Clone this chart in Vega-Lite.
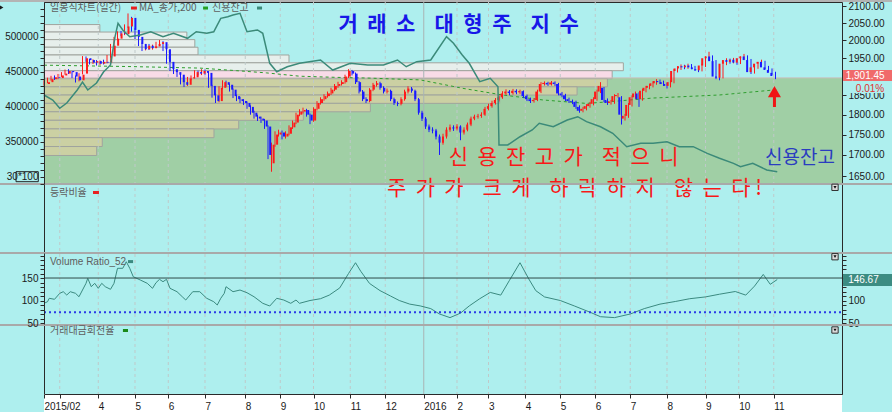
{
"$schema": "https://vega.github.io/schema/vega-lite/v6.json",
"width": 798, "height": 392,
"autosize": {"type": "none"},
"padding": {"left": 44, "top": 2, "right": 50, "bottom": 18},
"background": "#aeefee",
"config": {
  "view": {"stroke": "#2a2a2a", "strokeWidth": 1},
  "axis": {"labelFont": "Liberation Sans", "labelFontSize": 10, "labelColor": "#1a1a1a", "tickColor": "#2a2a2a", "domainColor": "#2a2a2a", "tickSize": 4, "labelPadding": 2, "grid": false, "labelOverlap": false}
},
"datasets": {
  "candles": [
{"t":0,"o":1880,"h":1890,"l":1876,"c":1885},{"t":2,"o":1885,"h":1897,"l":1882,"c":1893},{"t":4,"o":1893,"h":1902,"l":1889,"c":1898},{"t":6,"o":1898,"h":1903,"l":1891,"c":1896},{"t":8,"o":1896,"h":1907,"l":1893,"c":1903},{"t":10,"o":1903,"h":1912,"l":1899,"c":1908},{"t":12,"o":1908,"h":1919,"l":1905,"c":1915},{"t":14,"o":1915,"h":1920,"l":1907,"c":1912},{"t":16,"o":1912,"h":1914,"l":1896,"c":1900},{"t":18,"o":1900,"h":1903,"l":1884,"c":1890},
{"t":20,"o":1890,"h":1909,"l":1887,"c":1905},{"t":22,"o":1908,"h":1956,"l":1906,"c":1950},{"t":24,"o":1950,"h":1955,"l":1940,"c":1945},{"t":26,"o":1945,"h":1948,"l":1933,"c":1938},{"t":28,"o":1938,"h":1947,"l":1934,"c":1942},{"t":30,"o":1942,"h":1945,"l":1930,"c":1935},{"t":32,"o":1935,"h":1944,"l":1931,"c":1940},{"t":34,"o":1940,"h":1946,"l":1933,"c":1938},{"t":36,"o":1938,"h":1959,"l":1936,"c":1955},{"t":38,"o":1955,"h":1990,"l":1952,"c":1985},
{"t":40,"o":1985,"h":2010,"l":1982,"c":2005},{"t":42,"o":2005,"h":2026,"l":2000,"c":2020},{"t":44,"o":2020,"h":2027,"l":2012,"c":2018},{"t":46,"o":2018,"h":2046,"l":2015,"c":2040},{"t":48,"o":2040,"h":2078,"l":2036,"c":2065},{"t":50,"o":2065,"h":2068,"l":2025,"c":2030},{"t":52,"o":2030,"h":2035,"l":2004,"c":2010},{"t":54,"o":2010,"h":2014,"l":1984,"c":1990},{"t":56,"o":1990,"h":1994,"l":1970,"c":1975},{"t":58,"o":1975,"h":1990,"l":1972,"c":1985},
{"t":60,"o":1985,"h":1990,"l":1973,"c":1978},{"t":62,"o":1978,"h":1988,"l":1974,"c":1983},{"t":64,"o":1983,"h":1996,"l":1979,"c":1990},{"t":66,"o":1990,"h":2001,"l":1986,"c":1995},{"t":68,"o":1995,"h":1998,"l":1970,"c":1975},{"t":70,"o":1975,"h":1978,"l":1935,"c":1940},{"t":72,"o":1940,"h":1944,"l":1915,"c":1920},{"t":74,"o":1920,"h":1925,"l":1907,"c":1912},{"t":76,"o":1912,"h":1916,"l":1899,"c":1905},{"t":78,"o":1905,"h":1908,"l":1879,"c":1885},
{"t":80,"o":1885,"h":1890,"l":1872,"c":1878},{"t":82,"o":1878,"h":1899,"l":1875,"c":1895},{"t":84,"o":1895,"h":1903,"l":1890,"c":1898},{"t":86,"o":1898,"h":1917,"l":1895,"c":1912},{"t":88,"o":1912,"h":1916,"l":1903,"c":1908},{"t":90,"o":1908,"h":1920,"l":1904,"c":1915},{"t":92,"o":1915,"h":1919,"l":1905,"c":1910},{"t":94,"o":1910,"h":1913,"l":1870,"c":1875},{"t":96,"o":1875,"h":1878,"l":1844,"c":1850},{"t":98,"o":1850,"h":1855,"l":1830,"c":1835},
{"t":100,"o":1835,"h":1874,"l":1832,"c":1870},{"t":102,"o":1870,"h":1890,"l":1866,"c":1885},{"t":104,"o":1885,"h":1889,"l":1873,"c":1878},{"t":106,"o":1878,"h":1881,"l":1860,"c":1865},{"t":108,"o":1865,"h":1868,"l":1843,"c":1848},{"t":110,"o":1848,"h":1852,"l":1835,"c":1840},{"t":112,"o":1840,"h":1846,"l":1830,"c":1835},{"t":114,"o":1835,"h":1840,"l":1825,"c":1830},{"t":116,"o":1830,"h":1834,"l":1815,"c":1820},{"t":118,"o":1820,"h":1824,"l":1800,"c":1805},
{"t":120,"o":1805,"h":1810,"l":1790,"c":1795},{"t":122,"o":1795,"h":1800,"l":1784,"c":1790},{"t":124,"o":1790,"h":1795,"l":1779,"c":1785},{"t":126,"o":1785,"h":1789,"l":1764,"c":1770},{"t":128,"o":1770,"h":1773,"l":1690,"c":1700},{"t":130,"o":1680,"h":1730,"l":1660,"c":1725},{"t":132,"o":1725,"h":1758,"l":1720,"c":1750},{"t":134,"o":1750,"h":1762,"l":1745,"c":1755},{"t":136,"o":1755,"h":1760,"l":1738,"c":1745},{"t":138,"o":1745,"h":1758,"l":1740,"c":1752},
{"t":140,"o":1752,"h":1773,"l":1748,"c":1768},{"t":142,"o":1768,"h":1785,"l":1764,"c":1780},{"t":144,"o":1780,"h":1805,"l":1776,"c":1800},{"t":146,"o":1800,"h":1814,"l":1796,"c":1808},{"t":148,"o":1808,"h":1818,"l":1803,"c":1812},{"t":150,"o":1812,"h":1815,"l":1795,"c":1800},{"t":152,"o":1800,"h":1803,"l":1776,"c":1785},{"t":154,"o":1785,"h":1819,"l":1782,"c":1815},{"t":156,"o":1815,"h":1835,"l":1811,"c":1830},{"t":158,"o":1830,"h":1845,"l":1826,"c":1840},
{"t":160,"o":1840,"h":1853,"l":1836,"c":1848},{"t":162,"o":1848,"h":1860,"l":1844,"c":1855},{"t":164,"o":1855,"h":1870,"l":1851,"c":1865},{"t":166,"o":1865,"h":1880,"l":1861,"c":1875},{"t":168,"o":1875,"h":1886,"l":1870,"c":1880},{"t":170,"o":1880,"h":1890,"l":1876,"c":1885},{"t":172,"o":1885,"h":1905,"l":1881,"c":1900},{"t":174,"o":1900,"h":1920,"l":1896,"c":1915},{"t":176,"o":1915,"h":1918,"l":1903,"c":1908},{"t":178,"o":1908,"h":1911,"l":1880,"c":1885},
{"t":180,"o":1885,"h":1888,"l":1855,"c":1860},{"t":182,"o":1860,"h":1864,"l":1835,"c":1840},{"t":184,"o":1840,"h":1845,"l":1830,"c":1835},{"t":186,"o":1835,"h":1869,"l":1832,"c":1865},{"t":188,"o":1865,"h":1883,"l":1861,"c":1878},{"t":190,"o":1878,"h":1888,"l":1873,"c":1882},{"t":192,"o":1882,"h":1886,"l":1865,"c":1870},{"t":194,"o":1870,"h":1874,"l":1855,"c":1860},{"t":196,"o":1860,"h":1868,"l":1855,"c":1862},{"t":198,"o":1862,"h":1865,"l":1835,"c":1840},
{"t":200,"o":1840,"h":1844,"l":1825,"c":1830},{"t":202,"o":1830,"h":1834,"l":1822,"c":1828},{"t":204,"o":1828,"h":1845,"l":1824,"c":1840},{"t":206,"o":1840,"h":1865,"l":1836,"c":1860},{"t":208,"o":1860,"h":1874,"l":1855,"c":1868},{"t":210,"o":1868,"h":1872,"l":1857,"c":1862},{"t":212,"o":1862,"h":1865,"l":1835,"c":1840},{"t":214,"o":1840,"h":1843,"l":1800,"c":1805},{"t":216,"o":1805,"h":1810,"l":1784,"c":1790},{"t":218,"o":1790,"h":1794,"l":1764,"c":1770},
{"t":220,"o":1770,"h":1775,"l":1756,"c":1762},{"t":222,"o":1762,"h":1768,"l":1753,"c":1760},{"t":224,"o":1760,"h":1764,"l":1738,"c":1745},{"t":226,"o":1745,"h":1750,"l":1700,"c":1730},{"t":228,"o":1730,"h":1752,"l":1725,"c":1745},{"t":230,"o":1745,"h":1768,"l":1740,"c":1762},{"t":232,"o":1762,"h":1775,"l":1757,"c":1768},{"t":234,"o":1768,"h":1773,"l":1759,"c":1765},{"t":236,"o":1765,"h":1776,"l":1760,"c":1770},{"t":238,"o":1770,"h":1773,"l":1736,"c":1755},
{"t":240,"o":1755,"h":1768,"l":1750,"c":1762},{"t":242,"o":1762,"h":1780,"l":1758,"c":1775},{"t":244,"o":1775,"h":1795,"l":1771,"c":1790},{"t":246,"o":1790,"h":1800,"l":1786,"c":1795},{"t":248,"o":1795,"h":1802,"l":1790,"c":1797},{"t":250,"o":1797,"h":1806,"l":1792,"c":1800},{"t":252,"o":1800,"h":1820,"l":1797,"c":1815},{"t":254,"o":1815,"h":1828,"l":1811,"c":1822},{"t":256,"o":1822,"h":1836,"l":1818,"c":1830},{"t":258,"o":1830,"h":1843,"l":1826,"c":1838},
{"t":260,"o":1838,"h":1850,"l":1834,"c":1845},{"t":262,"o":1845,"h":1861,"l":1841,"c":1855},{"t":264,"o":1855,"h":1866,"l":1851,"c":1860},{"t":266,"o":1860,"h":1864,"l":1850,"c":1856},{"t":268,"o":1856,"h":1867,"l":1852,"c":1862},{"t":270,"o":1862,"h":1866,"l":1853,"c":1858},{"t":272,"o":1858,"h":1865,"l":1854,"c":1861},{"t":274,"o":1861,"h":1863,"l":1843,"c":1848},{"t":276,"o":1848,"h":1852,"l":1835,"c":1840},{"t":278,"o":1840,"h":1844,"l":1830,"c":1835},
{"t":280,"o":1835,"h":1843,"l":1831,"c":1838},{"t":282,"o":1838,"h":1865,"l":1835,"c":1860},{"t":284,"o":1860,"h":1885,"l":1856,"c":1880},{"t":286,"o":1880,"h":1887,"l":1876,"c":1883},{"t":288,"o":1883,"h":1886,"l":1875,"c":1879},{"t":290,"o":1879,"h":1888,"l":1876,"c":1884},{"t":292,"o":1884,"h":1887,"l":1875,"c":1880},{"t":294,"o":1880,"h":1883,"l":1850,"c":1855},{"t":296,"o":1855,"h":1859,"l":1845,"c":1850},{"t":298,"o":1850,"h":1854,"l":1835,"c":1840},
{"t":300,"o":1840,"h":1844,"l":1830,"c":1835},{"t":302,"o":1835,"h":1839,"l":1827,"c":1833},{"t":304,"o":1833,"h":1836,"l":1815,"c":1820},{"t":306,"o":1820,"h":1824,"l":1805,"c":1810},{"t":308,"o":1810,"h":1820,"l":1806,"c":1815},{"t":310,"o":1815,"h":1827,"l":1811,"c":1822},{"t":312,"o":1822,"h":1833,"l":1818,"c":1828},{"t":314,"o":1828,"h":1845,"l":1824,"c":1840},{"t":316,"o":1840,"h":1865,"l":1836,"c":1860},{"t":318,"o":1860,"h":1885,"l":1856,"c":1875},
{"t":320,"o":1870,"h":1872,"l":1832,"c":1838},{"t":322,"o":1838,"h":1842,"l":1825,"c":1830},{"t":324,"o":1830,"h":1838,"l":1826,"c":1834},{"t":326,"o":1834,"h":1853,"l":1828,"c":1848},{"t":328,"o":1848,"h":1856,"l":1844,"c":1851},{"t":330,"o":1845,"h":1848,"l":1775,"c":1800},{"t":332,"o":1790,"h":1802,"l":1785,"c":1797},{"t":334,"o":1797,"h":1830,"l":1792,"c":1825},{"t":336,"o":1825,"h":1850,"l":1821,"c":1845},{"t":338,"o":1845,"h":1860,"l":1841,"c":1855},
{"t":340,"o":1855,"h":1858,"l":1820,"c":1840},{"t":342,"o":1840,"h":1867,"l":1836,"c":1862},{"t":344,"o":1862,"h":1875,"l":1858,"c":1870},{"t":346,"o":1870,"h":1880,"l":1866,"c":1875},{"t":348,"o":1875,"h":1887,"l":1871,"c":1882},{"t":350,"o":1882,"h":1893,"l":1878,"c":1888},{"t":352,"o":1888,"h":1892,"l":1880,"c":1885},{"t":354,"o":1885,"h":1889,"l":1875,"c":1880},{"t":356,"o":1880,"h":1884,"l":1868,"c":1875},{"t":358,"o":1875,"h":1890,"l":1871,"c":1885},
{"t":360,"o":1885,"h":1920,"l":1882,"c":1915},{"t":362,"o":1915,"h":1928,"l":1911,"c":1922},{"t":364,"o":1922,"h":1933,"l":1918,"c":1928},{"t":366,"o":1928,"h":1932,"l":1920,"c":1925},{"t":368,"o":1925,"h":1935,"l":1921,"c":1930},{"t":370,"o":1930,"h":1934,"l":1920,"c":1925},{"t":372,"o":1925,"h":1929,"l":1915,"c":1920},{"t":374,"o":1920,"h":1924,"l":1912,"c":1917},{"t":376,"o":1917,"h":1935,"l":1914,"c":1930},{"t":378,"o":1930,"h":1955,"l":1926,"c":1950},
{"t":380,"o":1950,"h":1968,"l":1946,"c":1955},{"t":382,"o":1955,"h":1958,"l":1937,"c":1942},{"t":384,"o":1942,"h":1945,"l":1893,"c":1900},{"t":386,"o":1900,"h":1906,"l":1890,"c":1897},{"t":388,"o":1897,"h":1940,"l":1895,"c":1935},{"t":390,"o":1935,"h":1950,"l":1931,"c":1945},{"t":392,"o":1945,"h":1949,"l":1935,"c":1940},{"t":394,"o":1940,"h":1951,"l":1936,"c":1946},{"t":396,"o":1946,"h":1949,"l":1932,"c":1938},{"t":398,"o":1938,"h":1955,"l":1934,"c":1950},
{"t":400,"o":1950,"h":1962,"l":1946,"c":1955},{"t":402,"o":1955,"h":1958,"l":1940,"c":1945},{"t":404,"o":1945,"h":1948,"l":1907,"c":1912},{"t":406,"o":1912,"h":1930,"l":1908,"c":1925},{"t":408,"o":1925,"h":1940,"l":1921,"c":1935},{"t":410,"o":1935,"h":1946,"l":1931,"c":1940},{"t":412,"o":1940,"h":1943,"l":1920,"c":1925},{"t":414,"o":1925,"h":1929,"l":1913,"c":1918},{"t":416,"o":1918,"h":1922,"l":1905,"c":1910},{"t":418,"o":1910,"h":1913,"l":1893,"c":1901.45}
  ],
  "credit": [
{"t":0,"v":416700},{"t":5,"v":409600},{"t":9,"v":397700},{"t":13,"v":405300},{"t":19,"v":423900},{"t":22,"v":435300},{"t":25,"v":423900},{"t":30,"v":433900},{"t":34,"v":449600},{"t":38,"v":459600},{"t":40.6,"v":500000},{"t":42.3,"v":519100},{"t":45,"v":509600},{"t":49,"v":500000},{"t":55,"v":502400},{"t":61,"v":507100},{"t":68,"v":500000},{"t":74,"v":504900},{"t":82,"v":497700},{"t":87,"v":507100},{"t":93,"v":504900},{"t":97,"v":507100},{"t":101,"v":526300},{"t":105,"v":528600},{"t":108,"v":531000},{"t":112,"v":533400},{"t":116,"v":507100},{"t":122,"v":509600},{"t":125,"v":504900},{"t":129,"v":462000},{"t":133,"v":450000},{"t":139,"v":457100},{"t":146,"v":462000},{"t":158,"v":466700},{"t":165,"v":452400},{"t":175,"v":462000},{"t":185,"v":459600},{"t":194,"v":459600},{"t":202,"v":466700},{"t":207,"v":457100},{"t":213,"v":464300},{"t":221,"v":466700},{"t":230,"v":500000},{"t":234,"v":490600},{"t":239,"v":473900},{"t":243,"v":462000},{"t":249,"v":435700},{"t":255,"v":440600},{"t":259.4,"v":428600},{"t":260,"v":345300},{"t":265,"v":345300},{"t":272,"v":357100},{"t":279,"v":366700},{"t":283,"v":376300},{"t":291,"v":371400},{"t":299,"v":381000},{"t":305,"v":385700},{"t":310,"v":378600},{"t":318,"v":371400},{"t":325,"v":362000},{"t":333,"v":342900},{"t":341,"v":347700},{"t":348,"v":347700},{"t":356,"v":350000},{"t":363,"v":342900},{"t":371,"v":342900},{"t":379,"v":333400},{"t":386,"v":326300},{"t":394,"v":319100},{"t":398,"v":314300},{"t":405,"v":319100},{"t":413,"v":309600},{"t":419,"v":307100}
  ],
  "ma": [
{"t":0,"ma":1931},{"t":25,"ma":1929},{"t":51,"ma":1927},{"t":89,"ma":1923},{"t":110,"ma":1916},{"t":127,"ma":1910},{"t":146,"ma":1901},{"t":166,"ma":1898},{"t":185,"ma":1896},{"t":215,"ma":1891},{"t":240,"ma":1868},{"t":262,"ma":1851},{"t":285,"ma":1838},{"t":310,"ma":1829},{"t":322,"ma":1833},{"t":348,"ma":1843},{"t":386,"ma":1851},{"t":419,"ma":1865}
  ],
  "profile": [
{"hi":2057.0,"lo":2034.1,"vol":7.0,"zone":"above"},{"hi":2034.1,"lo":2011.1,"vol":17.9,"zone":"above"},{"hi":2011.1,"lo":1988.2,"vol":18.9,"zone":"above"},{"hi":1988.2,"lo":1965.2,"vol":19.3,"zone":"above"},{"hi":1965.2,"lo":1942.3,"vol":30.7,"zone":"above"},{"hi":1942.3,"lo":1919.4,"vol":72.6,"zone":"above"},{"hi":1919.4,"lo":1896.4,"vol":71.2,"zone":"current"},{"hi":1896.4,"lo":1873.5,"vol":70.6,"zone":"below"},{"hi":1873.5,"lo":1850.5,"vol":66.8,"zone":"below"},{"hi":1850.5,"lo":1827.6,"vol":57.1,"zone":"below"},{"hi":1827.6,"lo":1804.6,"vol":40.9,"zone":"below"},{"hi":1804.6,"lo":1781.7,"vol":32.5,"zone":"below"},{"hi":1781.7,"lo":1758.8,"vol":24.4,"zone":"below"},{"hi":1758.8,"lo":1735.8,"vol":21.3,"zone":"below"},{"hi":1735.8,"lo":1712.9,"vol":7.3,"zone":"below"},{"hi":1712.9,"lo":1690.0,"vol":6.6,"zone":"below"}
  ],
  "vr": [
{"t":0,"v":93.8},{"t":2,"v":97.3},{"t":3,"v":104.9},{"t":6,"v":102.7},{"t":9,"v":116},{"t":11,"v":119.6},{"t":13,"v":112.2},{"t":15,"v":119.6},{"t":18,"v":116},{"t":20,"v":108.4},{"t":22,"v":123.3},{"t":24,"v":138.2},{"t":25,"v":149.3},{"t":27,"v":130.7},{"t":29,"v":138.2},{"t":31,"v":127.1},{"t":33,"v":138.2},{"t":35,"v":130.7},{"t":38,"v":124.9},{"t":40,"v":138.2},{"t":42,"v":171.6},{"t":45,"v":171.6},{"t":47,"v":186.2},{"t":49,"v":171.6},{"t":51,"v":152.9},{"t":55,"v":145.6},{"t":59,"v":138.2},{"t":62,"v":127.1},{"t":64,"v":139.6},{"t":66,"v":147.1},{"t":68,"v":141.8},{"t":70,"v":147.1},{"t":72,"v":127.1},{"t":76,"v":119.6},{"t":79,"v":108.4},{"t":81,"v":101.1},{"t":85,"v":119.6},{"t":89,"v":119.6},{"t":93,"v":104.9},{"t":97,"v":97.3},{"t":99,"v":90},{"t":101,"v":104.9},{"t":103,"v":116},{"t":104,"v":130.7},{"t":108,"v":119.6},{"t":112,"v":123.3},{"t":116,"v":117.3},{"t":120,"v":108.4},{"t":125,"v":93.8},{"t":129,"v":87.8},{"t":133,"v":104.9},{"t":137,"v":101.1},{"t":141,"v":93.8},{"t":144,"v":101.1},{"t":146,"v":93.8},
{"t":152,"v":100},{"t":158,"v":104},{"t":163,"v":112},{"t":169,"v":128},{"t":174,"v":160},{"t":178,"v":184},{"t":181,"v":165},{"t":186,"v":138},{"t":192,"v":122},{"t":198,"v":110},{"t":203,"v":100},{"t":209,"v":92},{"t":215,"v":88},{"t":221,"v":82},{"t":226,"v":70},{"t":232,"v":62},{"t":238,"v":72},{"t":243,"v":88},{"t":249,"v":104},{"t":255,"v":118},{"t":261,"v":112},{"t":266,"v":145},{"t":272,"v":184},{"t":277,"v":148},{"t":281,"v":122},{"t":286,"v":108},{"t":295,"v":100},{"t":303,"v":88},{"t":312,"v":74},{"t":318,"v":64},{"t":326,"v":62},{"t":335,"v":70},{"t":343,"v":82},{"t":352,"v":92},{"t":361,"v":98},{"t":369,"v":104},{"t":378,"v":108},{"t":386,"v":114},{"t":395,"v":120},{"t":401,"v":112},{"t":406,"v":132},{"t":411,"v":158},{"t":415,"v":136},{"t":419,"v":146.67}
  ],
  "months": [{"t":9},{"t":31},{"t":52},{"t":71},{"t":92},{"t":115},{"t":135},{"t":154},{"t":175},{"t":195},{"t":236},{"t":254},{"t":275},{"t":295},{"t":315},{"t":335},{"t":356},{"t":378},{"t":397},{"t":417}],
  "buttons": [{"t":452,"y":0.952},{"t":452,"y":-0.054},{"t":452,"y":-1.116}]
},
"layer": [
  {"data": {"values": [{"t0": 0, "t1": 456, "p0": 1631.4, "p1": 1896.4}]},
   "mark": {"type": "rect", "color": "#a0cfa5"},
   "encoding": {"x": {"field": "t0", "type": "quantitative", "scale": {"domain": [0, 456], "nice": false, "zero": false}, "axis": null}, "x2": {"field": "t1"},
     "y": {"field": "p0", "type": "quantitative", "scale": {"type": "log", "domain": [1631.4, 2112], "range": [182, 0], "nice": false}, "axis": null}, "y2": {"field": "p1"}}},
  {"data": {"name": "profile"},
   "mark": {"type": "bar", "orient": "horizontal", "stroke": "#a0a49e", "strokeWidth": 1, "opacity": 1},
   "encoding": {"x": {"field": "vol", "type": "quantitative", "scale": {"domain": [0, 100], "nice": false, "zero": true}, "axis": null},
     "y": {"field": "hi", "type": "quantitative", "scale": {"type": "log", "domain": [1631.4, 2112], "range": [182, 0], "nice": false}, "axis": null}, "y2": {"field": "lo"},
     "fill": {"field": "zone", "type": "nominal", "scale": {"domain": ["above", "current", "below"], "range": ["#e7efec", "#f8dbe7", "#cbd0a3"]}, "legend": null}}},
  {"data": {"name": "months"},
   "mark": {"type": "rule", "color": "#bfc9c9", "strokeDash": [3, 3], "strokeWidth": 1},
   "encoding": {"x": {"field": "t", "type": "quantitative", "scale": {"domain": [0, 456], "nice": false, "zero": false}, "axis": null}}},
  {"data": {"values": [{"t": 217}]},
   "mark": {"type": "rule", "color": "#a9b5b5", "strokeWidth": 1},
   "encoding": {"x": {"field": "t", "type": "quantitative", "scale": {"domain": [0, 456], "nice": false, "zero": false}, "axis": null}}},
  {"data": {"values": [{"t0": 0, "t1": 456, "p": 1896.4}]},
   "mark": {"type": "rule", "color": "#c9bcb8", "strokeWidth": 1},
   "encoding": {"x": {"field": "t0", "type": "quantitative", "scale": {"domain": [0, 456], "nice": false, "zero": false}, "axis": null}, "x2": {"field": "t1"},
     "y": {"field": "p", "type": "quantitative", "scale": {"type": "log", "domain": [1631.4, 2112], "range": [182, 0], "nice": false}, "axis": null}}},
  {"data": {"name": "ma"},
   "mark": {"type": "line", "color": "#2e9e2e", "strokeDash": [3, 3], "strokeWidth": 1},
   "encoding": {"x": {"field": "t", "type": "quantitative", "scale": {"domain": [0, 456], "nice": false, "zero": false}, "axis": null},
     "y": {"field": "ma", "type": "quantitative", "scale": {"type": "log", "domain": [1631.4, 2112], "range": [182, 0], "nice": false},
           "axis": {"orient": "right", "values": [1650,1700,1750,1800,1850,1950,2000,2050,2100], "format": ".2f", "title": null, "zindex": 0, "domain": false}}}},
  {"data": {"name": "candles"},
   "mark": {"type": "rule", "strokeWidth": 1},
   "encoding": {"x": {"field": "t", "type": "quantitative", "scale": {"domain": [0, 456], "nice": false, "zero": false}, "axis": null},
     "y": {"field": "l", "type": "quantitative", "scale": {"type": "log", "domain": [1631.4, 2112], "range": [182, 0], "nice": false}, "axis": null}, "y2": {"field": "h"},
     "color": {"condition": {"test": "datum.c >= datum.o", "value": "#ff1a1a"}, "value": "#1a1aff"}}},
  {"data": {"name": "candles"},
   "mark": {"type": "bar", "width": 2, "opacity": 1},
   "encoding": {"x": {"field": "t", "type": "quantitative", "scale": {"domain": [0, 456], "nice": false, "zero": false}, "axis": null},
     "y": {"field": "o", "type": "quantitative", "scale": {"type": "log", "domain": [1631.4, 2112], "range": [182, 0], "nice": false}, "axis": null}, "y2": {"field": "c"},
     "color": {"condition": {"test": "datum.c >= datum.o", "value": "#ff1a1a"}, "value": "#1a1aff"}}},
  {"data": {"values": [{"t": 417.4, "p0": 1847, "p1": 1819.7}]},
   "mark": {"type": "rule", "color": "#f01414", "strokeWidth": 3},
   "encoding": {"x": {"field": "t", "type": "quantitative", "scale": {"domain": [0, 456], "nice": false, "zero": false}, "axis": null},
     "y": {"field": "p0", "type": "quantitative", "scale": {"type": "log", "domain": [1631.4, 2112], "range": [182, 0], "nice": false}, "axis": null}, "y2": {"field": "p1"}}},
  {"data": {"values": [{"t": 417.4, "p": 1860}]},
   "mark": {"type": "point", "shape": "triangle-up", "filled": true, "color": "#f01414", "size": 170, "opacity": 1},
   "encoding": {"x": {"field": "t", "type": "quantitative", "scale": {"domain": [0, 456], "nice": false, "zero": false}, "axis": null},
     "y": {"field": "p", "type": "quantitative", "scale": {"type": "log", "domain": [1631.4, 2112], "range": [182, 0], "nice": false}, "axis": null}}},
  {"data": {"values": [{"t": -24.5, "p": 2095.5}]},
   "mark": {"type": "point", "shape": "triangle-right", "filled": true, "color": "#1a1a1a", "size": 28, "opacity": 1},
   "encoding": {"x": {"field": "t", "type": "quantitative", "scale": {"domain": [0, 456], "nice": false, "zero": false}, "axis": null},
     "y": {"field": "p", "type": "quantitative", "scale": {"type": "log", "domain": [1631.4, 2112], "range": [182, 0], "nice": false}, "axis": null}}},
  {"data": {"values": [{"t": 236.9, "p": 2044, "s": "거\u00a0\u00a0래\u00a0\u00a0소\u00a0\u00a0\u00a0\u00a0대\u00a0\u00a0형\u00a0\u00a0주\u00a0\u00a0\u00a0\u00a0지\u00a0\u00a0수"}]},
   "mark": {"type": "text", "font": "Noto Sans CJK KR", "fontSize": 21, "fontWeight": "bold", "color": "#1717e8", "align": "center", "baseline": "middle"},
   "encoding": {"x": {"field": "t", "type": "quantitative", "scale": {"domain": [0, 456], "nice": false, "zero": false}, "axis": null},
     "y": {"field": "p", "type": "quantitative", "scale": {"type": "log", "domain": [1631.4, 2112], "range": [182, 0], "nice": false}, "axis": null}, "text": {"field": "s"}}},
  {"data": {"values": [
     {"t": 296.9, "p": 1692.7, "s": "신\u00a0\u00a0용\u00a0\u00a0잔\u00a0\u00a0고\u00a0\u00a0가\u00a0\u00a0\u00a0\u00a0적\u00a0\u00a0으\u00a0\u00a0니"},
     {"t": 303.1, "p": 1619.9, "s": "주\u00a0\u00a0가\u00a0\u00a0가\u00a0\u00a0\u00a0\u00a0크\u00a0\u00a0게\u00a0\u00a0\u00a0\u00a0하\u00a0\u00a0락\u00a0\u00a0하\u00a0\u00a0지\u00a0\u00a0\u00a0\u00a0않\u00a0\u00a0는\u00a0\u00a0다\u00a0!"}]},
   "mark": {"type": "text", "font": "Noto Sans CJK KR", "fontSize": 21, "color": "#f81818", "align": "center", "baseline": "middle"},
   "encoding": {"x": {"field": "t", "type": "quantitative", "scale": {"domain": [0, 456], "nice": false, "zero": false}, "axis": null},
     "y": {"field": "p", "type": "quantitative", "scale": {"type": "log", "domain": [1631.4, 2112], "range": [182, 0], "nice": false}, "axis": null}, "text": {"field": "s"}}},
  {"data": {"values": [{"t": 432, "p": 1692.6, "s": "신용잔고"}]},
   "mark": {"type": "text", "font": "Noto Sans CJK KR", "fontSize": 19, "color": "#2a3cc0", "align": "center", "baseline": "middle"},
   "encoding": {"x": {"field": "t", "type": "quantitative", "scale": {"domain": [0, 456], "nice": false, "zero": false}, "axis": null},
     "y": {"field": "p", "type": "quantitative", "scale": {"type": "log", "domain": [1631.4, 2112], "range": [182, 0], "nice": false}, "axis": null}, "text": {"field": "s"}}},
  {"data": {"values": [{"t": 3.43, "p": 2094, "s": "일봉식차트(일간)"}, {"t": 54.3, "p": 2094, "s": "MA_종가,200"}, {"t": 96, "p": 2094, "s": "신용잔고"}]},
   "mark": {"type": "text", "font": "Noto Sans CJK KR", "fontSize": 10, "color": "#5e5e5e", "align": "left", "baseline": "middle"},
   "encoding": {"x": {"field": "t", "type": "quantitative", "scale": {"domain": [0, 456], "nice": false, "zero": false}, "axis": null},
     "y": {"field": "p", "type": "quantitative", "scale": {"type": "log", "domain": [1631.4, 2112], "range": [182, 0], "nice": false}, "axis": null}, "text": {"field": "s"}}},
  {"data": {"values": [{"t0": 49.7, "t1": 53.1, "p": 2094}]},
   "mark": {"type": "rule", "strokeWidth": 3, "color": "#e82020"},
   "encoding": {"x": {"field": "t0", "type": "quantitative", "scale": {"domain": [0, 456], "nice": false, "zero": false}, "axis": null}, "x2": {"field": "t1"},
     "y": {"field": "p", "type": "quantitative", "scale": {"type": "log", "domain": [1631.4, 2112], "range": [182, 0], "nice": false}, "axis": null}}},
  {"data": {"values": [{"t0": 90.9, "t1": 93.7, "p": 2094}]},
   "mark": {"type": "rule", "strokeWidth": 3, "color": "#22a022"},
   "encoding": {"x": {"field": "t0", "type": "quantitative", "scale": {"domain": [0, 456], "nice": false, "zero": false}, "axis": null}, "x2": {"field": "t1"},
     "y": {"field": "p", "type": "quantitative", "scale": {"type": "log", "domain": [1631.4, 2112], "range": [182, 0], "nice": false}, "axis": null}}},
  {"data": {"values": [{"t0": 121.7, "t1": 124.6, "p": 2094}]},
   "mark": {"type": "rule", "strokeWidth": 3, "color": "#3b8a79"},
   "encoding": {"x": {"field": "t0", "type": "quantitative", "scale": {"domain": [0, 456], "nice": false, "zero": false}, "axis": null}, "x2": {"field": "t1"},
     "y": {"field": "p", "type": "quantitative", "scale": {"type": "log", "domain": [1631.4, 2112], "range": [182, 0], "nice": false}, "axis": null}}},
  {"data": {"values": [{"t0": 456.6, "t1": 484.6, "p0": 1917.8, "p1": 1888}]},
   "mark": {"type": "rect", "color": "#f06a6a"},
   "encoding": {"x": {"field": "t0", "type": "quantitative", "scale": {"domain": [0, 456], "nice": false, "zero": false}, "axis": null}, "x2": {"field": "t1"},
     "y": {"field": "p0", "type": "quantitative", "scale": {"type": "log", "domain": [1631.4, 2112], "range": [182, 0], "nice": false}, "axis": null}, "y2": {"field": "p1"}}},
  {"data": {"values": [{"t0": 456.6, "t1": 484.6, "p0": 1882.8, "p1": 1856.1}]},
   "mark": {"type": "rect", "color": "#aeefee"},
   "encoding": {"x": {"field": "t0", "type": "quantitative", "scale": {"domain": [0, 456], "nice": false, "zero": false}, "axis": null}, "x2": {"field": "t1"},
     "y": {"field": "p0", "type": "quantitative", "scale": {"type": "log", "domain": [1631.4, 2112], "range": [182, 0], "nice": false}, "axis": null}, "y2": {"field": "p1"}}},
  {"data": {"values": [{"t": 458.1, "p": 1901.45, "s": "1,901.45"}]},
   "mark": {"type": "text", "font": "Liberation Sans", "fontSize": 10, "color": "#ffffff", "align": "left", "baseline": "middle"},
   "encoding": {"x": {"field": "t", "type": "quantitative", "scale": {"domain": [0, 456], "nice": false, "zero": false}, "axis": null},
     "y": {"field": "p", "type": "quantitative", "scale": {"type": "log", "domain": [1631.4, 2112], "range": [182, 0], "nice": false}, "axis": null}, "text": {"field": "s"}}},
  {"data": {"values": [{"t": 472, "p": 1867, "s": "0.01%"}]},
   "mark": {"type": "text", "font": "Liberation Sans", "fontSize": 10, "color": "#e03030", "align": "center", "baseline": "middle"},
   "encoding": {"x": {"field": "t", "type": "quantitative", "scale": {"domain": [0, 456], "nice": false, "zero": false}, "axis": null},
     "y": {"field": "p", "type": "quantitative", "scale": {"type": "log", "domain": [1631.4, 2112], "range": [182, 0], "nice": false}, "axis": null}, "text": {"field": "s"}}},
  {"data": {"values": [{"t0": -25.14, "t1": 484.6, "p": 2115}]},
   "mark": {"type": "rule", "color": "#b4b4b4", "strokeWidth": 2},
   "encoding": {"x": {"field": "t0", "type": "quantitative", "scale": {"domain": [0, 456], "nice": false, "zero": false}, "axis": null}, "x2": {"field": "t1"},
     "y": {"field": "p", "type": "quantitative", "scale": {"type": "log", "domain": [1631.4, 2112], "range": [182, 0], "nice": false}, "axis": null}}},
  {"data": {"name": "credit"},
   "mark": {"type": "line", "color": "#3b8a79", "strokeWidth": 1.5},
   "encoding": {"x": {"field": "t", "type": "quantitative", "scale": {"domain": [0, 456], "nice": false, "zero": false}, "axis": null},
     "y": {"field": "v", "type": "quantitative", "scale": {"domain": [289571, 549571], "range": [182, 0], "nice": false, "zero": false},
           "axis": {"orient": "left", "title": null, "zindex": 1, "domain": true, "format": "d",
                    "values": [290000,300000,310000,320000,330000,340000,350000,360000,370000,380000,390000,400000,410000,420000,430000,440000,450000,460000,470000,480000,490000,500000,510000,520000,530000,540000],
                    "labelExpr": "datum.value === 300000 ? '30*100' : (datum.value % 50000 === 0 ? datum.label : '')"}}}},
  {"data": {"values": [{"t0": -16, "t1": -3.26, "v0": 307143, "v1": 292857}]},
   "mark": {"type": "rect", "fillOpacity": 0, "stroke": "#202020", "strokeWidth": 1},
   "encoding": {"x": {"field": "t0", "type": "quantitative", "scale": {"domain": [0, 456], "nice": false, "zero": false}, "axis": null}, "x2": {"field": "t1"},
     "y": {"field": "v0", "type": "quantitative", "scale": {"domain": [289571, 549571], "range": [182, 0], "nice": false, "zero": false}, "axis": null}, "y2": {"field": "v1"}}},
  {"data": {"name": "vr"},
   "mark": {"type": "line", "color": "#3b8a80", "strokeWidth": 1},
   "encoding": {"x": {"field": "t", "type": "quantitative", "scale": {"domain": [0, 456], "nice": false, "zero": false}, "axis": null},
     "y": {"field": "v", "type": "quantitative", "scale": {"domain": [47.8, 205.6], "range": [322, 251], "nice": false, "zero": false},
           "axis": {"orient": "left", "title": null, "zindex": 1, "domain": true, "format": "d",
                    "values": [50,60,70,80,90,100,110,120,130,140,150,160,170,180,190,200],
                    "labelExpr": "(datum.value === 50 || datum.value === 100 || datum.value === 150) ? datum.label : ''"}}}},
  {"data": {"values": [{"t0": 0, "t1": 456, "v": 150}]},
   "mark": {"type": "rule", "color": "#2f4a48", "strokeWidth": 1},
   "encoding": {"x": {"field": "t0", "type": "quantitative", "scale": {"domain": [0, 456], "nice": false, "zero": false}, "axis": null}, "x2": {"field": "t1"},
     "y": {"field": "v", "type": "quantitative", "scale": {"domain": [47.8, 205.6], "range": [322, 251], "nice": false, "zero": false}, "axis": null}}},
  {"data": {"values": [{"t0": 0, "t1": 456, "v": 74}]},
   "mark": {"type": "rule", "color": "#2a3ae8", "strokeWidth": 2, "strokeDash": [2, 3]},
   "encoding": {"x": {"field": "t0", "type": "quantitative", "scale": {"domain": [0, 456], "nice": false, "zero": false}, "axis": null}, "x2": {"field": "t1"},
     "y": {"field": "v", "type": "quantitative", "scale": {"domain": [47.8, 205.6], "range": [322, 251], "nice": false, "zero": false}, "axis": null}}},
  {"data": {"values": [{"t": 3.43, "v": 185.6, "s": "Volume Ratio_52"}]},
   "mark": {"type": "text", "font": "Liberation Sans", "fontSize": 10, "color": "#5e5e5e", "align": "left", "baseline": "middle"},
   "encoding": {"x": {"field": "t", "type": "quantitative", "scale": {"domain": [0, 456], "nice": false, "zero": false}, "axis": null},
     "y": {"field": "v", "type": "quantitative", "scale": {"domain": [47.8, 205.6], "range": [322, 251], "nice": false, "zero": false}, "axis": null}, "text": {"field": "s"}}},
  {"data": {"values": [{"t0": 48, "t1": 50.9, "v": 186.5}]},
   "mark": {"type": "rule", "strokeWidth": 3, "color": "#3b8a80"},
   "encoding": {"x": {"field": "t0", "type": "quantitative", "scale": {"domain": [0, 456], "nice": false, "zero": false}, "axis": null}, "x2": {"field": "t1"},
     "y": {"field": "v", "type": "quantitative", "scale": {"domain": [47.8, 205.6], "range": [322, 251], "nice": false, "zero": false}, "axis": null}}},
  {"data": {"values": [{"t0": 456.6, "t1": 484.6, "v0": 158.9, "v1": 132.2}]},
   "mark": {"type": "rect", "color": "#3c8c82"},
   "encoding": {"x": {"field": "t0", "type": "quantitative", "scale": {"domain": [0, 456], "nice": false, "zero": false}, "axis": null}, "x2": {"field": "t1"},
     "y": {"field": "v0", "type": "quantitative", "scale": {"domain": [47.8, 205.6], "range": [322, 251], "nice": false, "zero": false},
           "axis": {"orient": "right", "title": null, "zindex": 0, "domain": false, "format": "d",
                    "values": [50,60,70,80,90,100,110,120,130,140,150,160,170,180,190,200],
                    "labelExpr": "(datum.value === 50 || datum.value === 100) ? datum.label : ''"}},
     "y2": {"field": "v1"}}},
  {"data": {"values": [{"t": 459.5, "v": 146.67, "s": "146.67"}]},
   "mark": {"type": "text", "font": "Liberation Sans", "fontSize": 10, "color": "#ffffff", "align": "left", "baseline": "middle"},
   "encoding": {"x": {"field": "t", "type": "quantitative", "scale": {"domain": [0, 456], "nice": false, "zero": false}, "axis": null},
     "y": {"field": "v", "type": "quantitative", "scale": {"domain": [47.8, 205.6], "range": [322, 251], "nice": false, "zero": false}, "axis": null}, "text": {"field": "s"}}},
  {"data": {"values": [{"t0": -25.14, "t1": 484.6, "y": 1}, {"t0": -25.14, "t1": 484.6, "y": 0}]},
   "mark": {"type": "rule", "color": "#a9a9a9", "strokeWidth": 2},
   "encoding": {"x": {"field": "t0", "type": "quantitative", "scale": {"domain": [0, 456], "nice": false, "zero": false}, "axis": null}, "x2": {"field": "t1"},
     "y": {"field": "y", "type": "quantitative", "scale": {"domain": [0, 1], "range": [251, 182], "nice": false, "zero": false}, "axis": null}}},
  {"data": {"values": [{"t": 3.43, "y": 0.87, "s": "등락비율"}]},
   "mark": {"type": "text", "font": "Noto Sans CJK KR", "fontSize": 10, "color": "#5e5e5e", "align": "left", "baseline": "middle"},
   "encoding": {"x": {"field": "t", "type": "quantitative", "scale": {"domain": [0, 456], "nice": false, "zero": false}, "axis": null},
     "y": {"field": "y", "type": "quantitative", "scale": {"domain": [0, 1], "range": [251, 182], "nice": false, "zero": false}, "axis": null}, "text": {"field": "s"}}},
  {"data": {"values": [{"t0": 28, "t1": 31.4, "y": 0.877}]},
   "mark": {"type": "rule", "strokeWidth": 3, "color": "#e82020"},
   "encoding": {"x": {"field": "t0", "type": "quantitative", "scale": {"domain": [0, 456], "nice": false, "zero": false}, "axis": null}, "x2": {"field": "t1"},
     "y": {"field": "y", "type": "quantitative", "scale": {"domain": [0, 1], "range": [251, 182], "nice": false, "zero": false}, "axis": null}}},
  {"data": {"name": "buttons"},
   "mark": {"type": "point", "shape": "square", "filled": true, "color": "#dcdcdc", "stroke": "#303030", "strokeWidth": 1, "size": 40, "opacity": 1},
   "encoding": {"x": {"field": "t", "type": "quantitative", "scale": {"domain": [0, 456], "nice": false, "zero": false}, "axis": null},
     "y": {"field": "y", "type": "quantitative", "scale": {"domain": [0, 1], "range": [251, 182], "nice": false, "zero": false}, "axis": null}}},
  {"data": {"name": "buttons"},
   "mark": {"type": "point", "shape": "triangle-down", "filled": true, "color": "#101010", "size": 10, "opacity": 1},
   "encoding": {"x": {"field": "t", "type": "quantitative", "scale": {"domain": [0, 456], "nice": false, "zero": false}, "axis": null},
     "y": {"field": "y", "type": "quantitative", "scale": {"domain": [0, 1], "range": [251, 182], "nice": false, "zero": false}, "axis": null}}},
  {"data": {"values": [{"t0": 0, "t1": 456, "y0": 0, "y1": -0.3}]},
   "mark": {"type": "rect", "color": "#ffffff"},
   "encoding": {"x": {"field": "t0", "type": "quantitative", "scale": {"domain": [0, 456], "nice": false, "zero": false},
         "axis": {"orient": "bottom", "title": null, "zindex": 1, "domain": true, "grid": false,
                  "values": [0,9,31,52,71,92,115,135,154,175,195,217,236,254,275,295,315,335,356,378,397,417],
                  "labelExpr": "['2015/02','','4','5','6','7','8','9','10','11','12','2016','2','3','4','5','6','7','8','9','10','11'][indexof([0,9,31,52,71,92,115,135,154,175,195,217,236,254,275,295,315,335,356,378,397,417], datum.value)]",
                  "labelAlign": "left", "labelBaseline": "top", "labelPadding": 3, "labelFlush": false, "labelBound": false}},
     "x2": {"field": "t1"},
     "y": {"field": "y0", "type": "quantitative", "scale": {"domain": [0, 1], "range": [392, 323], "nice": false, "zero": false}, "axis": null}, "y2": {"field": "y1"}}},
  {"data": {"values": [{"t0": -25.14, "t1": 484.6, "y": 1}]},
   "mark": {"type": "rule", "color": "#a9a9a9", "strokeWidth": 2},
   "encoding": {"x": {"field": "t0", "type": "quantitative", "scale": {"domain": [0, 456], "nice": false, "zero": false}, "axis": null}, "x2": {"field": "t1"},
     "y": {"field": "y", "type": "quantitative", "scale": {"domain": [0, 1], "range": [392, 323], "nice": false, "zero": false}, "axis": null}}},
  {"data": {"values": [{"t": 3.43, "y": 0.92, "s": "거래대금회전율"}]},
   "mark": {"type": "text", "font": "Noto Sans CJK KR", "fontSize": 10, "color": "#5e5e5e", "align": "left", "baseline": "middle"},
   "encoding": {"x": {"field": "t", "type": "quantitative", "scale": {"domain": [0, 456], "nice": false, "zero": false}, "axis": null},
     "y": {"field": "y", "type": "quantitative", "scale": {"domain": [0, 1], "range": [392, 323], "nice": false, "zero": false}, "axis": null}, "text": {"field": "s"}}},
  {"data": {"values": [{"t0": 45.1, "t1": 48, "y": 0.92}]},
   "mark": {"type": "rule", "strokeWidth": 3, "color": "#1a8a1a"},
   "encoding": {"x": {"field": "t0", "type": "quantitative", "scale": {"domain": [0, 456], "nice": false, "zero": false}, "axis": null}, "x2": {"field": "t1"},
     "y": {"field": "y", "type": "quantitative", "scale": {"domain": [0, 1], "range": [392, 323], "nice": false, "zero": false}, "axis": null}}}
],
"resolve": {"scale": {"x": "independent", "y": "independent"}}
}
